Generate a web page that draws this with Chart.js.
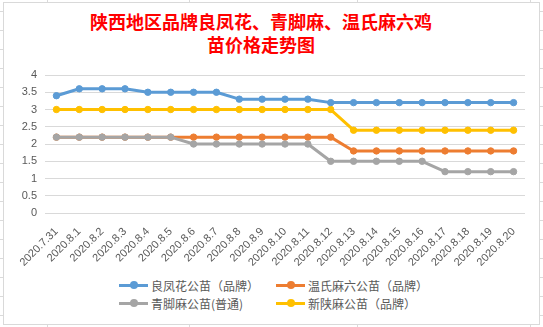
<!DOCTYPE html>
<html>
<head>
<meta charset="utf-8">
<script src="https://cdn.jsdelivr.net/npm/chart.js@4"></script>
<style>
  html, body { margin: 0; padding: 0; }
  body {
    width: 543px; height: 327px; position: relative; overflow: hidden;
    background: #fff repeating-linear-gradient(to bottom, transparent 0, transparent 11px, #dadada 11px, #dadada 12px, transparent 12px, transparent 19px);
  }
  .col { position: absolute; top: 0; width: 1px; height: 327px; background: #dadada; }
  .box {
    position: absolute; left: 3px; top: 2px; width: 535px; height: 321px;
    border: 1px solid #d9d9d9; background: #fff;
  }
  .title {
    position: absolute; left: 0; top: 7px; width: 514px; text-align: center;
    font: 700 18px/23px "Noto Sans CJK SC", sans-serif; color: #ff0000;
  }
  .plot { position: absolute; left: 0; top: 57px; width: 535px; height: 213px; }
  .item {
    position: absolute; height: 16px; display: flex; align-items: center;
    font: 12px "Noto Sans CJK SC", sans-serif; color: #595959; white-space: nowrap;
  }
  .swatch { position: relative; width: 29px; height: 3px; margin-right: 3px; }
  .swatch i { position: absolute; left: 11px; top: -2.5px; width: 8px; height: 8px; border-radius: 50%; }
</style>
</head>
<body>
<div class="col" style="left:47px"></div>
<div class="col" style="left:189px"></div>
<div class="col" style="left:357px"></div>
<div class="col" style="left:530px"></div>
<div class="box">
  <div class="title">陕西地区品牌良凤花、青脚麻、温氏麻六鸡<br>苗价格走势图</div>
  <div class="plot"><canvas id="chart"></canvas></div>
  <div id="legend"></div>
</div>
<script>
const categories = ["2020.7.31", "2020.8.1", "2020.8.2", "2020.8.3", "2020.8.4", "2020.8.5", "2020.8.6",
  "2020.8.7", "2020.8.8", "2020.8.9", "2020.8.10", "2020.8.11", "2020.8.12", "2020.8.13",
  "2020.8.14", "2020.8.15", "2020.8.16", "2020.8.17", "2020.8.18", "2020.8.19", "2020.8.20"];

const seriesNames = ["良凤花公苗（品牌）", "温氏麻六公苗（品牌）", "青脚麻公苗(普通)", "新陕麻公苗（品牌）"];
const seriesColors = ["#5b9bd5", "#ed7d31", "#a5a5a5", "#ffc000"];

const liangfenghua = [3.4, 3.6, 3.6, 3.6, 3.5, 3.5, 3.5, 3.5, 3.3, 3.3, 3.3, 3.3, 3.2, 3.2, 3.2, 3.2, 3.2, 3.2, 3.2, 3.2, 3.2];
const wenshimaliu = [2.2, 2.2, 2.2, 2.2, 2.2, 2.2, 2.2, 2.2, 2.2, 2.2, 2.2, 2.2, 2.2, 1.8, 1.8, 1.8, 1.8, 1.8, 1.8, 1.8, 1.8];
const qingjiaoma = [2.2, 2.2, 2.2, 2.2, 2.2, 2.2, 2.0, 2.0, 2.0, 2.0, 2.0, 2.0, 1.5, 1.5, 1.5, 1.5, 1.5, 1.2, 1.2, 1.2, 1.2];
const xinshanma = [3.0, 3.0, 3.0, 3.0, 3.0, 3.0, 3.0, 3.0, 3.0, 3.0, 3.0, 3.0, 3.0, 2.4, 2.4, 2.4, 2.4, 2.4, 2.4, 2.4, 2.4];

const yTickStep = 0.5;
const yMax = 4;

// gray line sits on top of the orange one where they overlap
const drawOrder = [1, 1, 0, 1];

const tickFont = { family: "'Liberation Sans', Arial, sans-serif", size: 11 };

const datasets = [liangfenghua, wenshimaliu, qingjiaoma, xinshanma].map((vals, i) => ({
  label: seriesNames[i],
  data: vals,
  order: drawOrder[i],
  borderColor: seriesColors[i],
  backgroundColor: seriesColors[i],
  pointBackgroundColor: seriesColors[i],
  pointBorderColor: seriesColors[i],
  borderWidth: 3,
  pointRadius: 3.2,
  pointBorderWidth: 1,
  borderJoinStyle: "round",
  borderCapStyle: "round",
  tension: 0,
}));

new Chart(document.getElementById("chart"), {
  type: "line",
  data: { labels: categories, datasets },
  options: {
    responsive: true,
    maintainAspectRatio: false,
    animation: false,
    layout: { padding: { left: 11, right: 14, top: 15, bottom: 0 } },
    plugins: {
      legend: { display: false },
      title: { display: false },
      tooltip: { enabled: false },
    },
    scales: {
      x: {
        offset: true,
        grid: { display: false },
        border: { display: false },
        ticks: { color: "#595959", font: tickFont, minRotation: 45, maxRotation: 45, autoSkip: false, padding: 4 },
      },
      y: {
        min: 0,
        max: yMax,
        grid: { color: "#d9d9d9", drawTicks: false },
        border: { display: false },
        ticks: {
          stepSize: yTickStep, color: "#595959", font: tickFont, padding: 8,
          callback: (v) => String(Math.round(v * 10) / 10),
        },
        afterFit(scale) { scale.width = 30; },
      },
    },
  },
});

// legend laid out as in the original: two columns, two rows
const legendSpots = [[115, 274], [272, 274], [115, 292], [272, 292]];
const legend = document.getElementById("legend");
seriesNames.forEach((name, i) => {
  const item = document.createElement("div");
  item.className = "item";
  item.style.left = legendSpots[i][0] + "px";
  item.style.top = legendSpots[i][1] + "px";
  item.innerHTML = '<span class="swatch" style="background:' + seriesColors[i] + '"><i style="background:' +
    seriesColors[i] + '"></i></span><span>' + name + "</span>";
  legend.appendChild(item);
});
</script>
</body>
</html>
